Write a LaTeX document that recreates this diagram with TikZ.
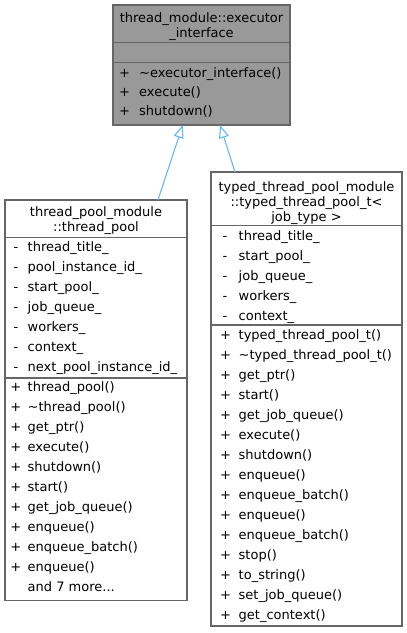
\documentclass[tikz,border=0pt]{standalone}
\usepackage{fontspec}
\setmainfont{DejaVu Sans}
\usetikzlibrary{arrows.meta,calc}
\definecolor{edgeblue}{HTML}{63B8FF}
\definecolor{bordergray}{HTML}{666666}
\definecolor{basegray}{HTML}{999999}
\begin{document}
\begin{tikzpicture}[x=1pt,y=-1pt,
  umlbox/.style={draw=bordergray, line width=1.2pt, inner sep=0pt, outer sep=0pt, anchor=north west},
  sepline/.style={draw=bordergray, line width=1.2pt},
  titletext/.style={font=\fontsize{13}{15}\selectfont, anchor=base, inner sep=0pt},
  memtext/.style={font=\fontsize{13}{15}\selectfont, anchor=base west, inner sep=0pt},
  vistext/.style={font=\fontsize{13}{15}\selectfont, anchor=base, inner sep=0pt},
  inh/.style={draw=edgeblue, line width=1.1pt, -{Triangle[fill=white, length=13pt, width=10pt]}}
]
\useasboundingbox (0,0) rectangle (407,633);

% ---------- base class ----------
\node[umlbox, fill=basegray, minimum width=177pt, minimum height=120pt] (base) at (113,5) {};
\draw[sepline] (113,42.3) -- (290,42.3);
\draw[sepline] (113,62.3) -- (290,62.3);
\node[titletext] (bt1) at (201.5,22) {thread\_module::executor};
\node[titletext] (bt2) at (201.5,37) {\_interface};
\foreach \t [count=\i] in {\textasciitilde executor\_interface(), execute(), shutdown()} {
  \node[vistext] (bv\i) at (124.5,{77+19*(\i-1)}) {+};
  \node[memtext] (bm\i) at (139,{77+19*(\i-1)}) {\t};
}

% ---------- thread_pool ----------
\node[umlbox, fill=white, minimum width=182pt, minimum height=400.5pt] (tp) at (5,200) {};
\draw[sepline] (5,237.7) -- (187,237.7);
\draw[sepline] (5,378) -- (187,378);
\node[titletext] (tt1) at (96,216.7) {thread\_pool\_module};
\node[titletext] (tt2) at (96,231.3) {::thread\_pool};
\foreach \t [count=\i] in {thread\_title\_, pool\_instance\_id\_, start\_pool\_, job\_queue\_, workers\_, context\_, next\_pool\_instance\_id\_} {
  \node[vistext] (tav\i) at (16,{251.7+20*(\i-1)}) {-};
  \node[memtext] (ta\i) at (27.5,{251.7+20*(\i-1)}) {\t};
}
\foreach \t [count=\i] in {thread\_pool(), \textasciitilde thread\_pool(), get\_ptr(), execute(), shutdown(), start(), get\_job\_queue(), enqueue(), enqueue\_batch(), enqueue()} {
  \node[vistext] (tmv\i) at (15.8,{391.7+20*(\i-1)}) {+};
  \node[memtext] (tm\i) at (27.5,{391.7+20*(\i-1)}) {\t};
}
\node[memtext] (tmore) at (27.5,591.7) {and 7 more...};

% ---------- typed_thread_pool_t ----------
\node[umlbox, fill=white, minimum width=191pt, minimum height=454pt] (ttp) at (211,172) {};
\draw[sepline] (211,225.7) -- (402,225.7);
\draw[sepline] (211,325) -- (402,325);
\node[titletext] (ut1) at (306.5,191) {typed\_thread\_pool\_module};
\node[titletext] (ut2) at (306.5,206.3) {::typed\_thread\_pool\_t<};
\node[titletext] (ut3) at (306.5,221) {job\_type >};
\foreach \t [count=\i] in {thread\_title\_, start\_pool\_, job\_queue\_, workers\_, context\_} {
  \node[vistext] (uav\i) at (225,{240+20*(\i-1)}) {-};
  \node[memtext] (ua\i) at (238.5,{240+20*(\i-1)}) {\t};
}
\foreach \t [count=\i] in {typed\_thread\_pool\_t(), \textasciitilde typed\_thread\_pool\_t(), get\_ptr(), start(), get\_job\_queue(), execute(), shutdown(), enqueue(), enqueue\_batch(), enqueue(), enqueue\_batch(), stop(), to\_string(), set\_job\_queue(), get\_context()} {
  \node[vistext] (umv\i) at (225.5,{339.5+20*(\i-1)}) {+};
  \node[memtext] (um\i) at (238.5,{339.5+20*(\i-1)}) {\t};
}

% ---------- inheritance ----------
\draw[inh] ($(tp.north west)+(153,0)$) -- ($(base.south west)+(69.7,0)$);
\draw[inh] ($(ttp.north west)+(24,0)$) -- ($(base.south west)+(107,0)$);
\end{tikzpicture}
\end{document}
